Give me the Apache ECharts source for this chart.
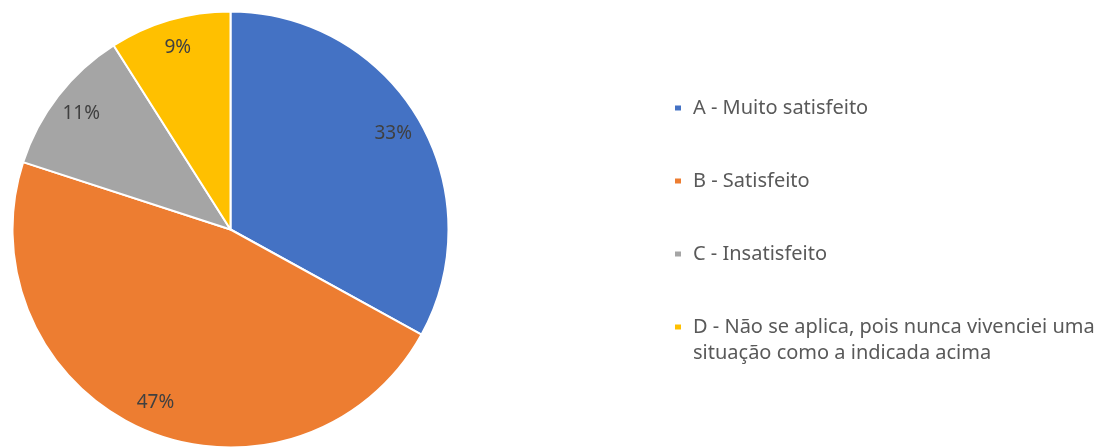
<!DOCTYPE html>
<html>
<head>
<meta charset="utf-8">
<script src="https://cdn.jsdelivr.net/npm/echarts@6/dist/echarts.min.js"></script>
<style>
html,body{margin:0;padding:0;background:#fff;}
#chart{width:1115px;height:448px;}
</style>
</head>
<body>
<div id="chart"></div>
<script>
const categories = ['A - Muito satisfeito', 'B - Satisfeito', 'C - Insatisfeito', 'D - Não se aplica, pois nunca vivenciei uma\nsituação como a indicada acima'];
const values = [33, 47, 11, 9];
const colors = ['#4472C4', '#ED7D31', '#A5A5A5', '#FFC000'];

const FONT = '"Noto Sans", "Open Sans", sans-serif';
const chart = echarts.init(document.getElementById('chart'), null, {renderer: 'canvas'});
const pieData = categories.map((c, i) => ({name: c, value: values[i], itemStyle: {color: colors[i]}}));

const legendText = {color: '#595959', fontSize: 20, fontFamily: FONT, lineHeight: 26, padding: [0, 0, 0, 6]};

chart.setOption({
  animation: false,
  legend: [
    {
      orient: 'vertical', left: 673, top: 95, padding: 0,
      itemWidth: 8, itemHeight: 7, itemGap: 47, icon: 'rect',
      selectedMode: false,
      data: categories.slice(0, 3),
      textStyle: legendText
    },
    {
      orient: 'vertical', left: 673, top: 288, padding: 0,
      itemWidth: 8, itemHeight: 7, icon: 'rect',
      selectedMode: false,
      data: [categories[3]],
      formatter: function (name) { return ' \n' + name; },
      textStyle: legendText
    }
  ],
  series: [
    {
      type: 'pie',
      center: [230.5, 229.5],
      radius: [0, 218],
      startAngle: 90,
      clockwise: true,
      data: pieData,
      label: {show: false},
      labelLine: {show: false},
      itemStyle: {borderColor: '#fff', borderWidth: 2},
      emphasis: {disabled: true},
      silent: true
    },
    {
      type: 'pie',
      center: [230.5, 229.5],
      radius: [154, 218],
      startAngle: 90,
      clockwise: true,
      data: categories.map((c, i) => ({name: c, value: values[i]})),
      itemStyle: {color: 'rgba(0,0,0,0)', borderWidth: 0},
      label: {show: true, position: 'inside', formatter: '{c}%', color: '#404040', fontSize: 19, fontFamily: FONT},
      labelLine: {show: false},
      emphasis: {disabled: true},
      silent: true,
      legendHoverLink: false
    }
  ]
});
</script>
</body>
</html>
